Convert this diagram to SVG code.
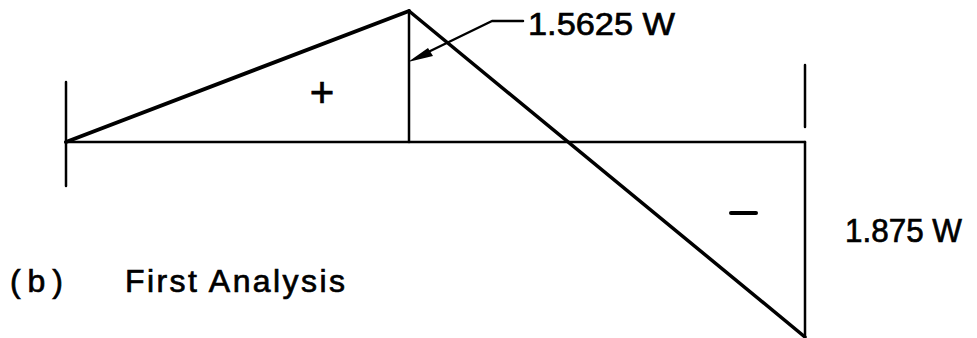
<svg xmlns="http://www.w3.org/2000/svg" width="977" height="338" viewBox="0 0 977 338">
<style>
.ln{stroke:#000;fill:none;stroke-linecap:round;stroke-linejoin:round}
.t{font-family:"Liberation Sans","DejaVu Sans",sans-serif;fill:#000;stroke:#000;stroke-width:0.7}
</style>
<rect width="977" height="338" fill="#fff"/>
<g id="diagram">
<line class="ln" x1="66" y1="82" x2="66" y2="186" stroke-width="2.5"/>
<line class="ln" x1="66" y1="142" x2="805" y2="142" stroke-width="2.5"/>
<line class="ln" x1="66" y1="142" x2="409" y2="11" stroke-width="4"/>
<line class="ln" x1="409" y1="11" x2="409" y2="142" stroke-width="2.5"/>
<line class="ln" x1="409" y1="11" x2="805" y2="337" stroke-width="3.5"/>
<line class="ln" x1="805" y1="65" x2="805" y2="127" stroke-width="2.5"/>
<line class="ln" x1="805" y1="142" x2="805" y2="337" stroke-width="2.5"/>
</g>
<g id="connectors">
<path class="ln" d="M523,21 L492,21 L420,56" stroke-width="2.5"/>
<path d="M408,62 L428,48 L433,56 Z" fill="#000"/>
</g>
<g id="labels">
<text class="t" x="528" y="35" font-size="32" textLength="147" lengthAdjust="spacingAndGlyphs">1.5625 W</text>
<text class="t" x="845" y="242" font-size="34" textLength="117" lengthAdjust="spacingAndGlyphs">1.875 W</text>
<text class="t" x="322" y="107" font-size="42" text-anchor="middle">+</text>
<line class="ln" x1="731" y1="213" x2="756" y2="213" stroke-width="4"/>
<text class="t" x="10" y="292" font-size="32" textLength="53" lengthAdjust="spacing">(b)</text>
<text class="t" x="125" y="292" font-size="32" textLength="220" lengthAdjust="spacing">First Analysis</text>
</g>
</svg>
